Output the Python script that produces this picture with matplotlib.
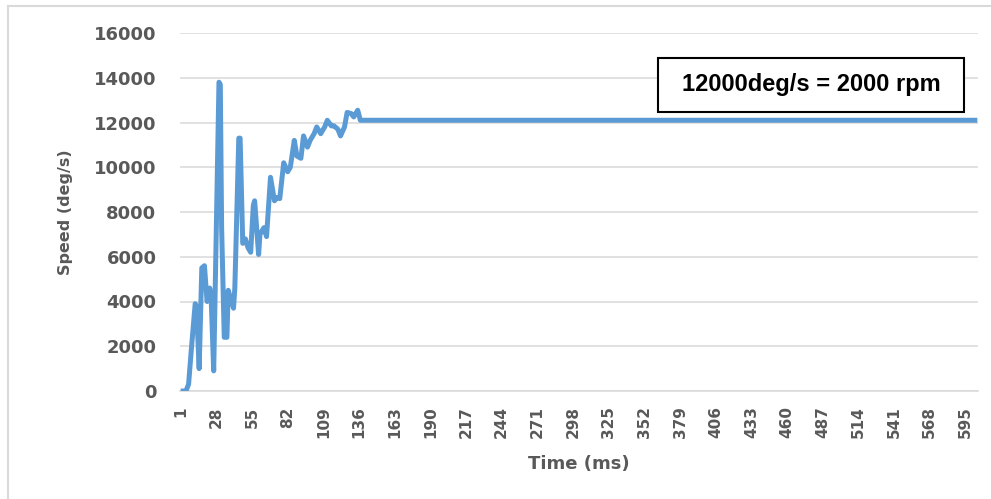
import matplotlib
matplotlib.use("Agg")
import matplotlib.pyplot as plt
from matplotlib.lines import Line2D
from matplotlib.patches import Rectangle

# ---- data ----
time_ms = [1, 5, 7, 9, 12, 13, 15, 17, 19, 21, 23, 24, 26, 28, 30, 31, 32, 34, 36,
           37, 38, 41, 42, 45, 46, 48, 50, 52, 54, 56, 57, 60, 61, 64, 66, 69, 72,
           74, 76, 79, 82, 84, 87, 89, 92, 94, 97, 99, 102, 104, 107, 110, 112,
           115, 117, 120, 122, 125, 127, 130, 132, 135, 137, 604]
speed = [0, 0, 300, 1800, 3900, 3800, 1000, 5500, 5600, 4000, 4600, 4300, 900, 7300,
         13800, 13700, 7300, 2400, 2400, 4500, 4300, 3700, 4600, 11300, 11300, 6600,
         6800, 6400, 6200, 8300, 8500, 6100, 7000, 7300, 6900, 9550, 8500, 8650,
         8600, 10200, 9800, 10000, 11200, 10500, 10400, 11400, 10900, 11200, 11500,
         11800, 11500, 11800, 12100, 11850, 11850, 11700, 11400, 11800, 12450,
         12400, 12250, 12550, 12100, 12100]
x_ticks = list(range(1, 596, 27))
y_ticks = [0, 2000, 4000, 6000, 8000, 10000, 12000, 14000, 16000]
annotation = "12000deg/s = 2000 rpm"
x_label = "Time (ms)"
y_label = "Speed (deg/s)"

W, H = 991, 499
fig = plt.figure(figsize=(W / 100, H / 100), dpi=100)
ax = fig.add_axes([180 / W, (H - 391) / H, (978 - 180) / W, (391 - 33) / H])

grid_c = "#D9D9D9"
txt_c = "#595959"

ax.plot(time_ms, speed, color="#5B9BD5", lw=3.6, solid_joinstyle="round",
        solid_capstyle="butt", zorder=3)

ax.set_xlim(0.5, 604.5)
ax.set_ylim(0, 16000)
ax.set_yticks(y_ticks)
ax.set_yticklabels([str(v) for v in y_ticks], family="DejaVu Sans",
                   fontweight="bold", fontsize=13, color=txt_c)
ax.set_xticks(x_ticks)
ax.set_xticklabels([str(v) for v in x_ticks], rotation=90, family="DejaVu Sans",
                   fontweight="bold", fontsize=11, color=txt_c)
ax.tick_params(axis="y", length=0, pad=17)
ax.tick_params(axis="x", length=0, pad=11)
ax.grid(axis="y", color=grid_c, lw=1.1)
ax.set_axisbelow(True)
for s in ["top", "right", "left"]:
    ax.spines[s].set_visible(False)
ax.spines["bottom"].set_color(grid_c)
ax.spines["bottom"].set_linewidth(1.1)

ax.set_xlabel(x_label, family="DejaVu Sans", fontweight="bold", fontsize=13,
              color=txt_c, labelpad=12)
ax.set_ylabel(y_label, family="DejaVu Sans", fontweight="bold", fontsize=11.5,
              color=txt_c, labelpad=15)

# annotation box
bx0, bx1, by0, by1 = 658, 964, 58, 112
fig.patches.append(Rectangle((bx0 / W, (H - by1) / H), (bx1 - bx0) / W, (by1 - by0) / H,
                             transform=fig.transFigure, facecolor="white",
                             edgecolor="black", lw=1.5, zorder=5))
fig.text((bx0 + bx1) / 2 / W, (H - (by0 + by1) / 2) / H, annotation,
         family="Liberation Sans", fontweight="bold", fontsize=17, color="black",
         ha="center", va="center", zorder=6)

# chart border (top and left visible)
fig.add_artist(Line2D([8 / W, 8 / W], [0, (H - 6) / H], transform=fig.transFigure,
                      color=grid_c, lw=1.5))
fig.add_artist(Line2D([8 / W, 1.0], [(H - 6) / H, (H - 6) / H], transform=fig.transFigure,
                      color=grid_c, lw=1.5))

fig.savefig("out.png", dpi=100)
